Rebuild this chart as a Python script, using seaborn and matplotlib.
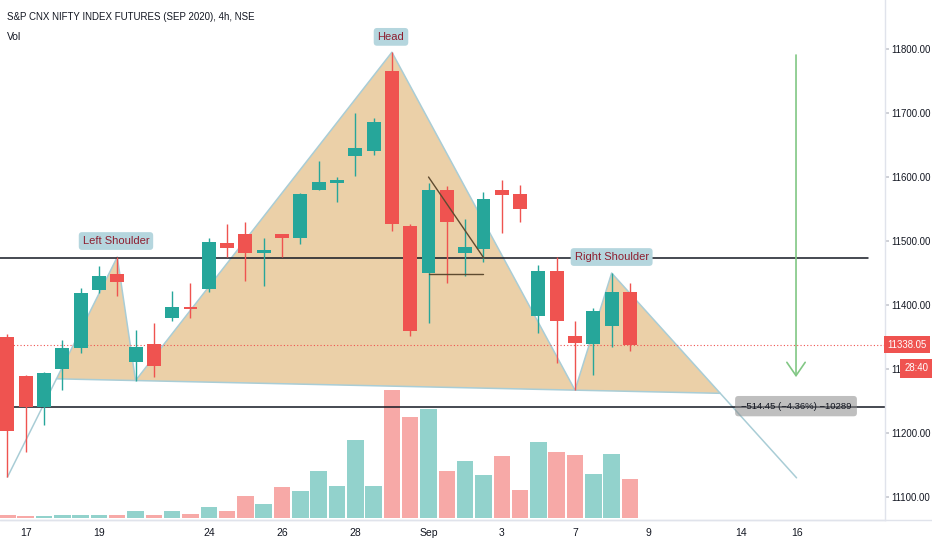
import numpy as np
import pandas as pd
import matplotlib
matplotlib.use("Agg")
import matplotlib.pyplot as plt
import matplotlib.transforms as mtransforms
import seaborn as sns

# ---------------- data ----------------
bar_idx = list(range(35))
opens = [11350, 11289, 11241, 11300, 11333, 11423, 11448, 11311, 11339, 11380,
         11397, 11425, 11497, 11511, 11482, 11511, 11505, 11579, 11590, 11633,
         11641, 11766, 11524, 11450, 11580, 11481, 11488, 11579, 11574, 11383,
         11453, 11352, 11339, 11368, 11421]
closes = [11203, 11241, 11294, 11333, 11419, 11446, 11436, 11334, 11305, 11397,
          11394, 11498, 11489, 11481, 11486, 11505, 11574, 11593, 11595, 11645,
          11686, 11526, 11360, 11580, 11529, 11491, 11566, 11572, 11550, 11453,
          11375, 11340, 11390, 11421, 11338.05]
highs = [11355, 11290, 11296, 11345, 11427, 11461, 11475, 11361, 11372, 11422,
         11434, 11505, 11527, 11529, 11504, 11511, 11575, 11625, 11600, 11700,
         11693, 11795, 11526, 11591, 11586, 11534, 11577, 11596, 11587, 11462,
         11475, 11375, 11395, 11450, 11435]
lows = [11131, 11171, 11212, 11267, 11325, 11419, 11414, 11282, 11287, 11375,
        11380, 11421, 11475, 11438, 11430, 11475, 11496, 11579, 11561, 11602,
        11634, 11516, 11352, 11372, 11434, 11445, 11468, 11512, 11529, 11356,
        11309, 11267, 11291, 11334, 11328]
volumes = [33, 23, 23, 33, 33, 33, 33, 67, 33, 67, 43, 110, 67, 217, 143, 310,
           270, 470, 323, 783, 323, 1283, 1007, 1090, 473, 570, 433, 623, 283,
           763, 663, 633, 443, 643, 390]

date_tick_pos = [1, 5, 11, 15, 19, 23, 27, 31, 35, 40.05, 43.1]
date_tick_labels = ["17", "19", "24", "26", "28", "Sep", "3", "7", "9", "14", "16"]
price_ticks = [11100, 11200, 11300, 11400, 11500, 11600, 11700, 11800]

# head & shoulders pattern points (start, L shoulder, neck1, head, neck2, R shoulder, end)
hs_x = [0, 6, 7, 21, 31, 33, 43.1]
hs_y = [11131, 11475, 11282, 11795, 11267, 11450, 11130]
hs_labels = ["Left Shoulder", "Head", "Right Shoulder"]

resistance_level = 11474
support_level = 11241
flag_line_x = [23.0, 26.03]
flag_line_y = [11600, 11473]
flag_base_x = [23.04, 26.0]
flag_base_y = [11448, 11448]
arrow_x = 43.07
arrow_from, arrow_to = 11795, 11283
measure_text = "\u2212514.45 (\u22124.36%) \u221210289"

# ---------------- style ----------------
sns.set_theme(style="white")
plt.rcParams["font.family"] = ["Liberation Sans Narrow", "Liberation Sans", "DejaVu Sans"]

UP, DOWN = "#26a69a", "#ef5350"
VUP, VDOWN = "#92d2cc", "#f7a9a7"
TXT = "#131722"

W, H = 932, 550
fig = plt.figure(figsize=(W / 100, H / 100), dpi=100)
fig.patch.set_facecolor("white")
rect = [0, 30 / H, 885 / W, 520 / H]
xlim = (-0.404, 47.93)
ylim = (11064.1, 11876.6)

# volume (behind)
axv = fig.add_axes(rect)
df = pd.DataFrame({"idx": bar_idx, "vol": volumes,
                   "dir": ["up" if c >= o else "down" for o, c in zip(opens, closes)]})
sns.barplot(data=df, x="idx", y="vol", hue="dir", palette={"up": VUP, "down": VDOWN},
            native_scale=True, width=0.9, saturation=1, legend=False, ax=axv,
            edgecolor="none")
axv.set_xlim(*xlim)
axv.set_ylim(-20, 5180)
axv.axis("off")

# price axes
ax = fig.add_axes(rect)
ax.patch.set_alpha(0)
ax.set_xlim(*xlim)
ax.set_ylim(*ylim)

# head & shoulders drawing
n1 = np.array([hs_x[2], hs_y[2]], float)
n2 = np.array([hs_x[4], hs_y[4]], float)
slope = (n2[1] - n1[1]) / (n2[0] - n1[0])


def cross_neck(p, q):
    p, q = np.array(p, float), np.array(q, float)
    d = q - p
    t = (n1[1] + slope * (p[0] - n1[0]) - p[1]) / (d[1] - slope * d[0])
    return p + t * d


pl = cross_neck((hs_x[0], hs_y[0]), (hs_x[1], hs_y[1]))
pr = cross_neck((hs_x[5], hs_y[5]), (hs_x[6], hs_y[6]))
poly_x = [pl[0]] + hs_x[1:6] + [pr[0]]
poly_y = [pl[1]] + hs_y[1:6] + [pr[1]]
ax.fill(poly_x, poly_y, color="#ebd0a8", lw=0, zorder=1)
ax.plot(hs_x, hs_y, color="#a9cdd6", lw=1.1, zorder=1.5)
ax.plot([pl[0], pr[0]], [pl[1], pr[1]], color="#a9cdd6", lw=1.1, zorder=1.5)

# horizontal levels
ax.plot([xlim[0], 47.0], [resistance_level] * 2, color=TXT, lw=1.1, zorder=2)
ax.axhline(support_level, color=TXT, lw=1.1, zorder=2)
ax.axhline(closes[-1], color=DOWN, lw=0.8, ls=(0, (1, 2)), zorder=2)

# candles
cols = [UP if c >= o else DOWN for o, c in zip(opens, closes)]
ax.vlines(bar_idx, lows, highs, colors=cols, lw=1, zorder=3)
bottoms = [min(o, c) for o, c in zip(opens, closes)]
heights = [max(abs(c - o), 3) for o, c in zip(opens, closes)]
ax.bar(bar_idx, heights, bottom=bottoms, width=0.76, color=cols, lw=0, zorder=4)

# small flag drawing
ax.plot(flag_line_x, flag_line_y, color="#5e4b30", lw=1, zorder=5)
ax.plot(flag_base_x, flag_base_y, color="#5e4b30", lw=1, zorder=5)

# pattern labels
lab_box = dict(boxstyle="round,pad=0.35,rounding_size=0.3", fc="#b5d6de", ec="none")
for txt, (lx, ly) in zip(hs_labels, [(5.93, 11500), (20.95, 11819), (33.0, 11475)]):
    ax.text(lx, ly, txt, ha="center", va="center", fontsize=8, color="#8e1e2f",
            bbox=lab_box, zorder=6)

# projection arrow and measure
ax.annotate("", xy=(arrow_x, arrow_to), xytext=(arrow_x, arrow_from),
            arrowprops=dict(arrowstyle="->,head_length=0.8,head_width=0.55",
                            color="#81c784", lw=1.2), zorder=6)
ax.text(arrow_x, 11242, measure_text, ha="center", va="center", fontsize=6.8, color=TXT,
        bbox=dict(boxstyle="round,pad=0.6,rounding_size=0.35", fc=(0.55, 0.55, 0.55, 0.55),
                  ec="none"), zorder=6)

# axes cosmetics
for s in ["top", "left"]:
    ax.spines[s].set_visible(False)
for s in ["right", "bottom"]:
    ax.spines[s].set_color("#e0e3eb")
    ax.spines[s].set_linewidth(1)
ax.yaxis.tick_right()
ax.set_yticks(price_ticks, [f"{p:.2f}" for p in price_ticks])
ax.tick_params(axis="y", length=3, color="#c8cbd2", labelsize=6.9, labelcolor=TXT, pad=1.5)
ax.set_xticks(date_tick_pos, date_tick_labels)
ax.tick_params(axis="x", length=0, labelsize=7.5, labelcolor=TXT, pad=6)
ax.grid(False)

ytr = mtransforms.blended_transform_factory(ax.transAxes, ax.transData)
ax.text(1.003, closes[-1], "11338.05", transform=ytr, ha="left", va="center", fontsize=6.9,
        color="white", clip_on=False, zorder=10,
        bbox=dict(boxstyle="square,pad=0.35", fc=DOWN, ec="none"))
ax.text(1.022, 11301, "28:40", transform=ytr, ha="left", va="center", fontsize=6.9,
        color="white", clip_on=False, zorder=10,
        bbox=dict(boxstyle="square,pad=0.45", fc=DOWN, ec="none"))

fig.add_artist(plt.Line2D([0, 1], [30 / H, 30 / H], transform=fig.transFigure,
                          color="#e0e3eb", lw=1))
fig.text(7 / W, 1 - 17 / H, "S&P CNX NIFTY INDEX FUTURES (SEP 2020), 4h, NSE",
         fontsize=7, color=TXT, va="center", ha="left")
fig.text(7 / W, 1 - 37 / H, "Vol", fontsize=7.5, color=TXT, va="center", ha="left")

fig.savefig("out.png", dpi=100, facecolor="white")
